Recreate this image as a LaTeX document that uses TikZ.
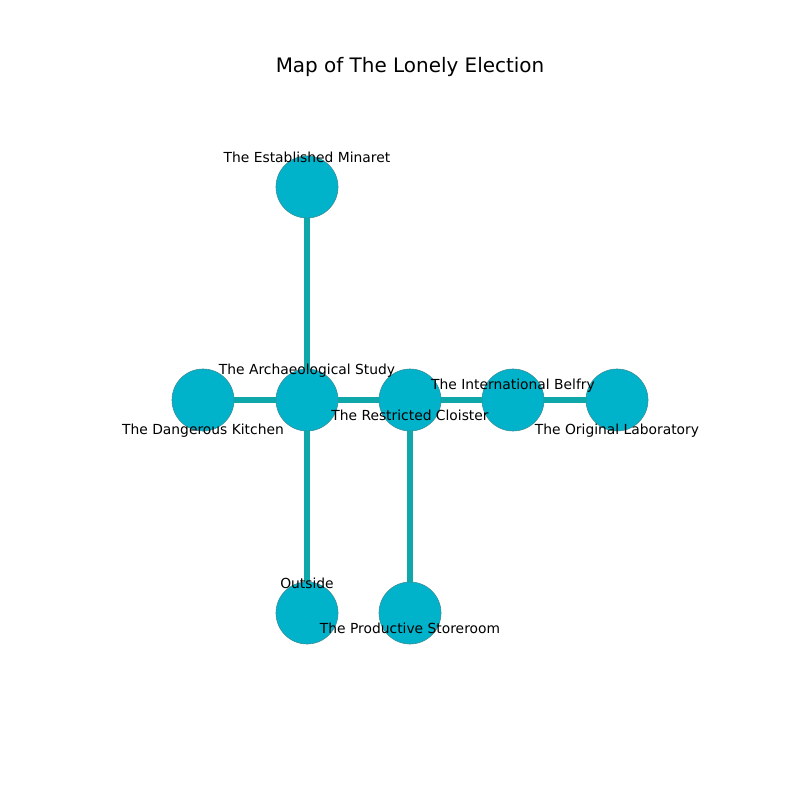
\documentclass[tikz,border=0pt]{standalone}
\usepackage{fontspec}
\setmainfont{DejaVu Sans}
\definecolor{roomfill}{HTML}{00B2CA}
\definecolor{roomedge}{HTML}{3A8C96}
\definecolor{passage}{HTML}{0FA8AA}
\tikzset{
  room/.style={circle, fill=roomfill, draw=roomedge, line width=0.4pt, minimum size=62*0.7227pt, inner sep=0pt},
  passway/.style={passage, line width=4pt},
  tag/.style={font=\fontsize{10}{12}\selectfont, inner sep=0pt}
}
\begin{document}
\begin{tikzpicture}[x=0.01in, y=-0.01in, line join=round]
\useasboundingbox (0,0) rectangle (800,800);
\node[font=\fontsize{14.4}{17}\selectfont] (title) at (410,67) {Map of The Lonely Election};
% rooms
\node[room] (minaret) at (307,187) {};
\node[room] (study) at (307,400) {};
\node[room] (kitchen) at (203,400) {};
\node[room] (cloister) at (410,400) {};
\node[room] (belfry) at (513,400) {};
\node[room] (lab) at (617,400) {};
\node[room] (outside) at (307,613) {};
\node[room] (store) at (410,613) {};
% passages
\draw[passway] (minaret.south) -- (study.north);
\draw[passway] (kitchen.east) -- (study.west);
\draw[passway] (study.east) -- (cloister.west);
\draw[passway] (cloister.east) -- (belfry.west);
\draw[passway] (belfry.east) -- (lab.west);
\draw[passway] (study.south) -- (outside.north);
\draw[passway] (cloister.south) -- (store.north);
% labels
\node[tag] (tminaret) at (307,157) {The Established Minaret};
\node[tag] (tstudy) at (307,370.5) {The Archaeological Study};
\node[tag] (tkitchen) at (203,430.5) {The Dangerous Kitchen};
\node[tag] (tcloister) at (410,415.5) {The Restricted Cloister};
\node[tag] (tbelfry) at (513,385.5) {The International Belfry};
\node[tag] (tlab) at (617,430.5) {The Original Laboratory};
\node[tag] (toutside) at (307,583) {Outside};
\node[tag] (tstore) at (410,628.5) {The Productive Storeroom};
\end{tikzpicture}
\end{document}
